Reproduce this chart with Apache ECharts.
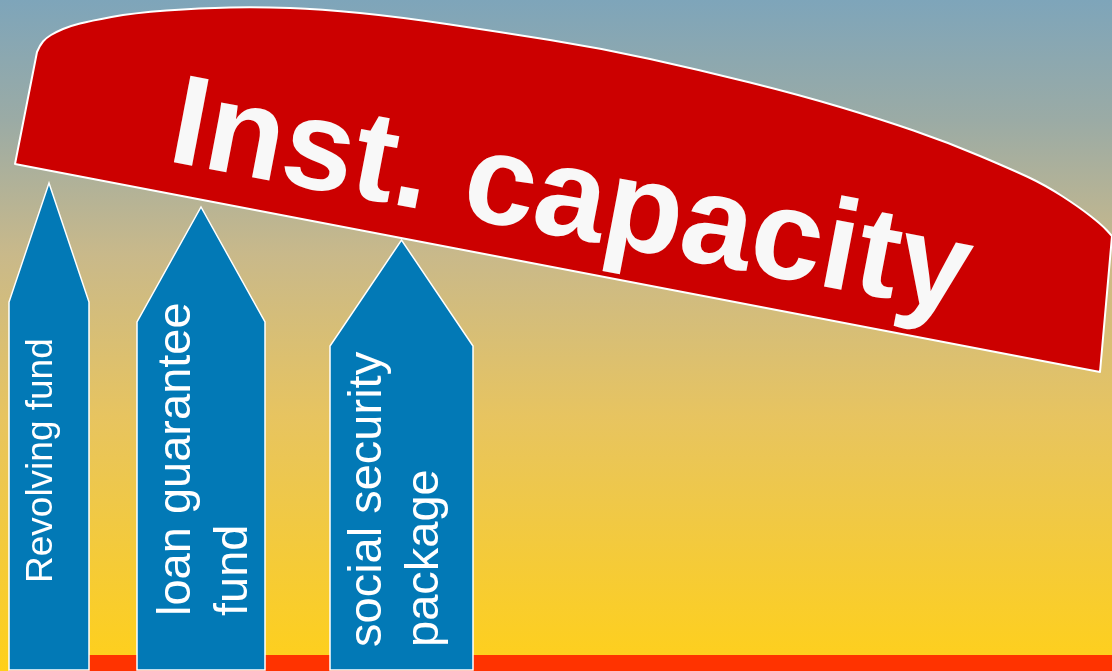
<!DOCTYPE html>
<html>
<head>
<meta charset="utf-8">
<script src="https://cdn.jsdelivr.net/npm/echarts@6/dist/echarts.min.js"></script>
<style>
html,body{margin:0;padding:0;width:100%;height:100%;overflow:hidden;}
#main{width:1112px;height:671px;}
</style>
</head>
<body>
<div id="main"></div>
<script>
// ---- data (axis units: x across, height above ground) ----
const titleText = 'Inst. capacity';
const pillarNames = ['Revolving fund', 'loan guarantee\nfund', 'social security\npackage'];
const pillarLeft = [9, 137, 330];
const pillarRight = [89, 265, 473];
const pillarShoulder = [369, 349, 325];
const pillarTip = [488, 464, 431];
const labelAxisX = [42, 206, 397];
const labelBaseHeight = [88, 55, 24];
const groundFrom = [9, 0];
const groundTo = [1112, 16];
// cap: lower-left corner, curved top edge, lower-right corner
const capLowerLeft = [15, 507];
const capTopX = [37, 40, 46, 56, 70, 90, 133, 200, 260, 320, 400, 500, 600, 700, 800, 880, 947, 1013, 1045, 1079, 1102, 1112];
const capTopHeight = [619, 626, 633, 639, 645, 650, 658, 663, 664, 662, 654, 639, 623, 601, 576, 552, 529, 501, 486, 464, 446, 435];
const capLowerRight = [1100, 299];
const titleAnchor = [172, 545];
const titleTiltDeg = -10.8;

const chart = echarts.init(document.getElementById('main'), null, {renderer: 'canvas'});

function smoothPath(pts) {
  // straight start, midpoint-quadratic smoothing along top edge
  let d = 'M' + pts[0][0] + ' ' + pts[0][1] + ' L' + pts[1][0] + ' ' + pts[1][1];
  const top = pts.slice(1, pts.length - 1);
  for (let k = 1; k < top.length - 1; k++) {
    const mx = (top[k][0] + top[k + 1][0]) / 2;
    const my = (top[k][1] + top[k + 1][1]) / 2;
    d += ' Q' + top[k][0] + ' ' + top[k][1] + ' ' + mx + ' ' + my;
  }
  const last = top[top.length - 1];
  d += ' L' + last[0] + ' ' + last[1];
  const end = pts[pts.length - 1];
  d += ' L' + end[0] + ' ' + end[1] + ' Z';
  return d;
}

const option = {
  animation: false,
  backgroundColor: new echarts.graphic.LinearGradient(0, 0, 0, 1, [
    {offset: 0, color: '#7ea5ba'},
    {offset: 0.18, color: '#9baba5'},
    {offset: 0.38, color: '#c9b98a'},
    {offset: 0.62, color: '#e7c460'},
    {offset: 1, color: '#ffd01a'}
  ]),
  grid: {left: 0, right: 0, top: 0, bottom: 0},
  xAxis: {type: 'value', min: 0, max: 1112, show: false},
  yAxis: {type: 'value', min: 0, max: 671, show: false},
  series: [
    {
      type: 'custom',
      coordinateSystem: 'cartesian2d',
      data: [[0]],
      silent: true,
      renderItem: function (params, api) {
        const p0 = api.coord(groundFrom);
        const p1 = api.coord(groundTo);
        return {
          type: 'rect',
          shape: {x: p0[0], y: p1[1], width: p1[0] - p0[0], height: p0[1] - p1[1] + 2},
          style: {fill: '#ff3300'}
        };
      }
    },
    {
      type: 'custom',
      coordinateSystem: 'cartesian2d',
      data: pillarNames.map((n, i) => [i]),
      silent: true,
      renderItem: function (params, api) {
        const i = api.value(0);
        const l = pillarLeft[i], r = pillarRight[i], c = (l + r) / 2;
        const pts = [
          api.coord([l, 1]), api.coord([l, pillarShoulder[i]]),
          api.coord([c, pillarTip[i]]), api.coord([r, pillarShoulder[i]]),
          api.coord([r, 1])
        ];
        const lp = api.coord([labelAxisX[i], labelBaseHeight[i]]);
        return {
          type: 'group',
          children: [
            {
              type: 'polygon',
              shape: {points: pts},
              style: {fill: '#0279b6', stroke: '#ffffff', lineWidth: 1.5}
            },
            {
              type: 'text',
              x: lp[0], y: lp[1],
              rotation: Math.PI / 2,
              style: {
                text: pillarNames[i],
                fill: '#ffffff',
                fontFamily: 'Liberation Sans, Arial, sans-serif',
                fontSize: i === 0 ? 37 : 47,
                lineHeight: 57,
                align: 'left',
                verticalAlign: 'middle'
              }
            }
          ]
        };
      }
    },
    {
      type: 'custom',
      coordinateSystem: 'cartesian2d',
      data: [[0]],
      silent: true,
      renderItem: function (params, api) {
        const pts = [api.coord(capLowerLeft)]
          .concat(capTopX.map((x, k) => api.coord([x, capTopHeight[k]])))
          .concat([api.coord(capLowerRight)]);
        const tp = api.coord(titleAnchor);
        return {
          type: 'group',
          children: [
            {
              type: 'path',
              shape: {pathData: smoothPath(pts)},
              style: {fill: '#cc0000', stroke: '#ffffff', lineWidth: 2, lineJoin: 'round'}
            },
            {
              type: 'text',
              x: tp[0], y: tp[1],
              rotation: titleTiltDeg * Math.PI / 180,
              style: {
                text: titleText,
                fill: '#f8f8f8',
                fontFamily: 'Liberation Sans, Arial, sans-serif',
                fontWeight: 'bold',
                fontSize: 128,
                align: 'left',
                verticalAlign: 'middle'
              }
            }
          ]
        };
      }
    }
  ]
};
chart.setOption(option);
</script>
</body>
</html>
